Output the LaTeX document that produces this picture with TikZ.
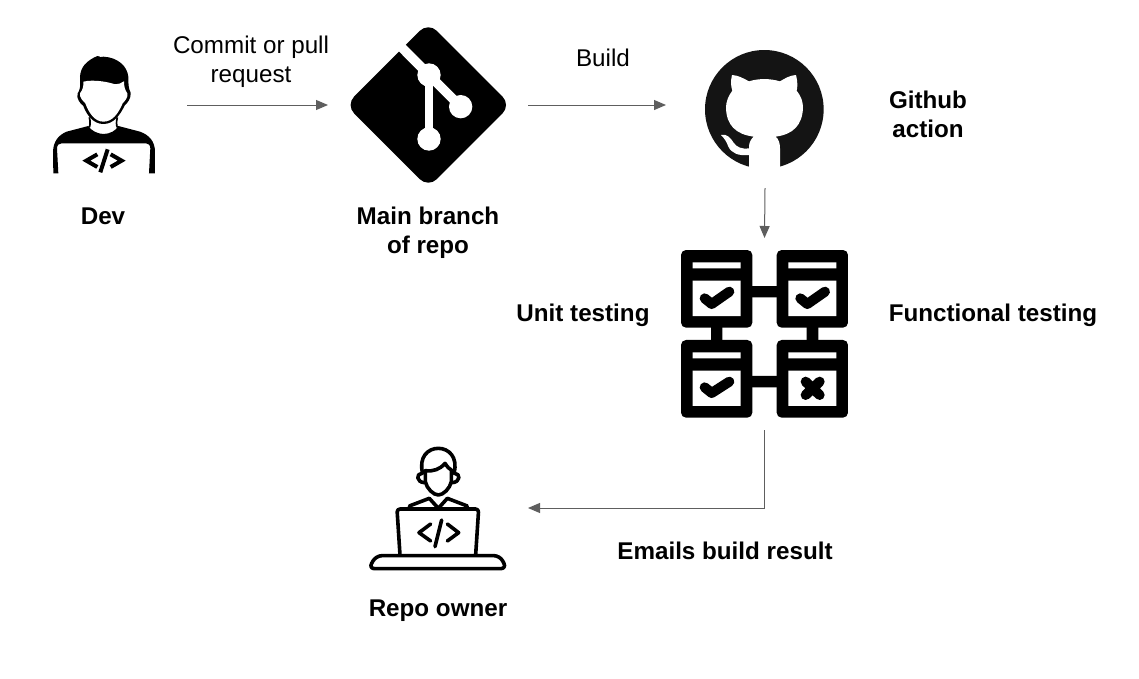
\documentclass[tikz,border=0pt]{standalone}
\usepackage{fontspec}
\setmainfont{Liberation Sans}
\usetikzlibrary{arrows.meta}
\definecolor{connc}{HTML}{5E5E5E}
\tikzset{
  x=1pt,y=-1pt,
  lbl/.style={font=\fontsize{24.2}{29}\selectfont,text=black,inner sep=0pt,align=center},
  blbl/.style={lbl,font=\fontsize{24.2}{29}\selectfont\bfseries},
  slot/.style={inner sep=0pt,outer sep=0pt},
  conn/.style={draw=connc,line width=1pt,-{Triangle[length=12pt,width=10pt,connc]}},
  zoomA/.style={x=0.3333pt,y=-0.3333pt},
  ownerline/.style={draw=black,line width=3.6pt,line cap=round,line join=round},
  box/.style={fill=black,rounded corners=5pt},
}
\begin{document}
\begin{tikzpicture}
\useasboundingbox (0,0) rectangle (1139,678);
\fill[white] (0,0) rectangle (1139,678);
% connector anchors (invisible slots around the icons)
\node[slot,minimum width=168pt,minimum height=160pt] (dev) at (103,105) {};
\node[slot,minimum width=200pt,minimum height=160pt] (git) at (428,105) {};
\node[slot,minimum width=198pt,minimum height=166pt] (gh) at (765,105) {};
\node[slot,minimum width=170pt,minimum height=192pt] (tests) at (764.5,334) {};
\node[slot,minimum width=180pt,minimum height=130pt] (owner) at (438,508) {};
% Dev
\begin{scope}[shift={(40,40)},zoomA]
  \fill (40,400) -- (39,335) .. controls (40,305) and (55,285) .. (80,275) -- (145,258)
     .. controls (152,272) and (175,282) .. (190,282) .. controls (210,282) and (228,272) .. (235,258)
     -- (300,275) .. controls (328,285) and (345,305) .. (345,335) -- (345,400) -- (327,400)
     -- (331,325) .. controls (331,315) and (325,310) .. (318,310) -- (65,310)
     .. controls (57,310) and (51,315) .. (51,325) -- (55,400) -- cycle;
  \draw[line width=1.7pt,line join=round] (148,232) .. controls (152,245) and (150,258) .. (148,262);
  \draw[line width=1.7pt,line join=round] (232,232) .. controls (228,245) and (230,258) .. (232,262);
  \fill (113,160) .. controls (120,150) and (122,140) .. (120,110) .. controls (122,80) and (140,62) .. (172,48)
     .. controls (178,44) and (175,55) .. (190,50) .. controls (235,52) and (262,80) .. (265,110)
     .. controls (265,130) and (265,145) .. (272,158) .. controls (274,175) and (262,190) .. (255,195)
     .. controls (240,225) and (222,252) .. (190,252) .. controls (160,252) and (140,225) .. (130,198)
     .. controls (120,190) and (108,175) .. (113,160) -- cycle;
  \fill[white] (130,125) .. controls (160,118) and (200,125) .. (222,132) .. controls (235,133) and (245,130) .. (252,124)
     .. controls (252,140) and (255,150) .. (262,160) .. controls (265,172) and (255,182) .. (248,190)
     .. controls (235,220) and (218,245) .. (190,245) .. controls (165,245) and (147,220) .. (136,190)
     .. controls (128,182) and (118,172) .. (120,160) .. controls (128,150) and (131,140) .. (130,125) -- cycle;
  \draw[line width=4pt,miter limit=10] (172,343) -- (139,362) -- (172,381);
  \draw[line width=4pt,miter limit=10] (212,343) -- (245,362) -- (212,381);
  \draw[line width=4pt] (203,328) -- (181,397);
\end{scope}
% Git
\begin{scope}[shift={(340,20)},zoomA]
  \fill[rounded corners=12pt] (265,7) -- (513,255) -- (265,503) -- (17,255) -- cycle;
  \draw[white,line width=9.5pt] (160,57) -- (267,165) -- (362,260);
  \draw[white,line width=8pt] (267,165) -- (267,357);
  \fill[white] (267,165) circle[radius=35] (362,260) circle[radius=35] (267,357) circle[radius=35];
\end{scope}
% GitHub
\begin{scope}[shift={(695,40)},zoomA]
  \fill[black!92] (208,208) circle[radius=178];
  \fill[white] (111,105) .. controls (130,106) and (145,115) .. (162,124)
     .. controls (190,115) and (225,115) .. (255,124) .. controls (270,115) and (285,106) .. (303,105)
     .. controls (308,125) and (308,140) .. (305,152) .. controls (318,168) and (324,185) .. (324,203)
     .. controls (322,255) and (295,283) .. (242,290) .. controls (252,298) and (255,312) .. (255,325)
     -- (255,395) -- (162,395) -- (162,320) .. controls (162,308) and (168,297) .. (176,290)
     .. controls (122,283) and (94,255) .. (93,203) .. controls (93,185) and (100,168) .. (112,152)
     .. controls (107,138) and (107,122) .. (111,105) -- cycle;
  \fill[white] (78,285) .. controls (95,280) and (108,295) .. (115,307) .. controls (125,322) and (140,328) .. (162,325)
     -- (162,345) .. controls (130,348) and (110,340) .. (100,320) .. controls (95,305) and (88,295) .. (78,285) -- cycle;
\end{scope}
% Testing matrix
\begin{scope}[shift={(670,240)},zoomA]
  \fill (240,138) rectangle (330,172) (240,408) rectangle (330,442);
  \fill (123,255) rectangle (157,310) (410,255) rectangle (445,310);
  \foreach \dx/\dy in {0/0,287/0,0/270,287/270}{
    \begin{scope}[shift={(\dx,\dy)}]
      \fill[box] (33,30) rectangle (247,263);
      \fill[white] (68,67) rectangle (212,85) (68,122) rectangle (212,228);
    \end{scope}
  }
  \draw[line width=10pt,line cap=round,line join=round] (104,175) -- (125,192) -- (178,155);
  \draw[line width=10pt,line cap=round,line join=round] (391,175) -- (412,192) -- (465,155);
  \draw[line width=10pt,line cap=round,line join=round] (104,442) -- (125,459) -- (178,425);
  \draw[line width=10pt,line cap=round] (407,425) -- (449,465) (449,425) -- (407,465);
\end{scope}
% Owner
\begin{scope}[shift={(360,440)},zoomA]
  \draw[ownerline] (188,100) .. controls (175,50) and (205,25) .. (235,25) .. controls (265,25) and (295,50) .. (282,100);
  \draw[ownerline] (186,100) .. controls (168,100) and (168,127) .. (194,128);
  \draw[ownerline] (284,100) .. controls (302,100) and (302,127) .. (276,128);
  \draw[ownerline] (196,92) .. controls (220,95) and (240,88) .. (255,70) .. controls (262,80) and (268,88) .. (274,90)
     -- (274,125) .. controls (270,145) and (250,165) .. (235,165) .. controls (220,165) and (200,145) .. (196,125) -- cycle;
  \draw[ownerline] (148,198) -- (208,175) -- (235,205) -- (262,175) -- (322,198);
  \draw[ownerline,rounded corners=3pt] (120,345) -- (111,207) -- (356,207) -- (347,345);
  \draw[ownerline] (212,252) -- (177,278) -- (212,303);
  \draw[ownerline] (245,240) -- (225,320);
  \draw[ownerline] (262,252) -- (296,278) -- (262,303);
  \draw[ownerline,rounded corners=6pt] (48,347) -- (420,347) -- (440,386) -- (26,386) -- cycle;
\end{scope}
% Labels
\node[lbl] (lcommit) at (251,61.5) {Commit or pull\\request};
\node[blbl] (ldev) at (103,216) {Dev};
\node[blbl] (lmain) at (428,233) {Main branch\\of repo};
\node[lbl] (lbuild) at (603,58) {Build};
\node[blbl] (lgh) at (928,114) {Github\\action};
\node[blbl] (lunit) at (583,315) {Unit testing};
\node[blbl] (lfunc) at (993,315) {Functional testing};
\node[blbl] (lemail) at (725,551) {Emails build result};
\node[blbl] (lowner) at (438,611) {Repo owner};
% Connectors
\draw[conn] (dev.east) -- (git.west);
\draw[conn] (git.east) -- (gh.west);
\draw[conn] (gh.south) -- (tests.north);
\draw[conn] (tests.south) |- (owner.east);
\end{tikzpicture}
\end{document}
